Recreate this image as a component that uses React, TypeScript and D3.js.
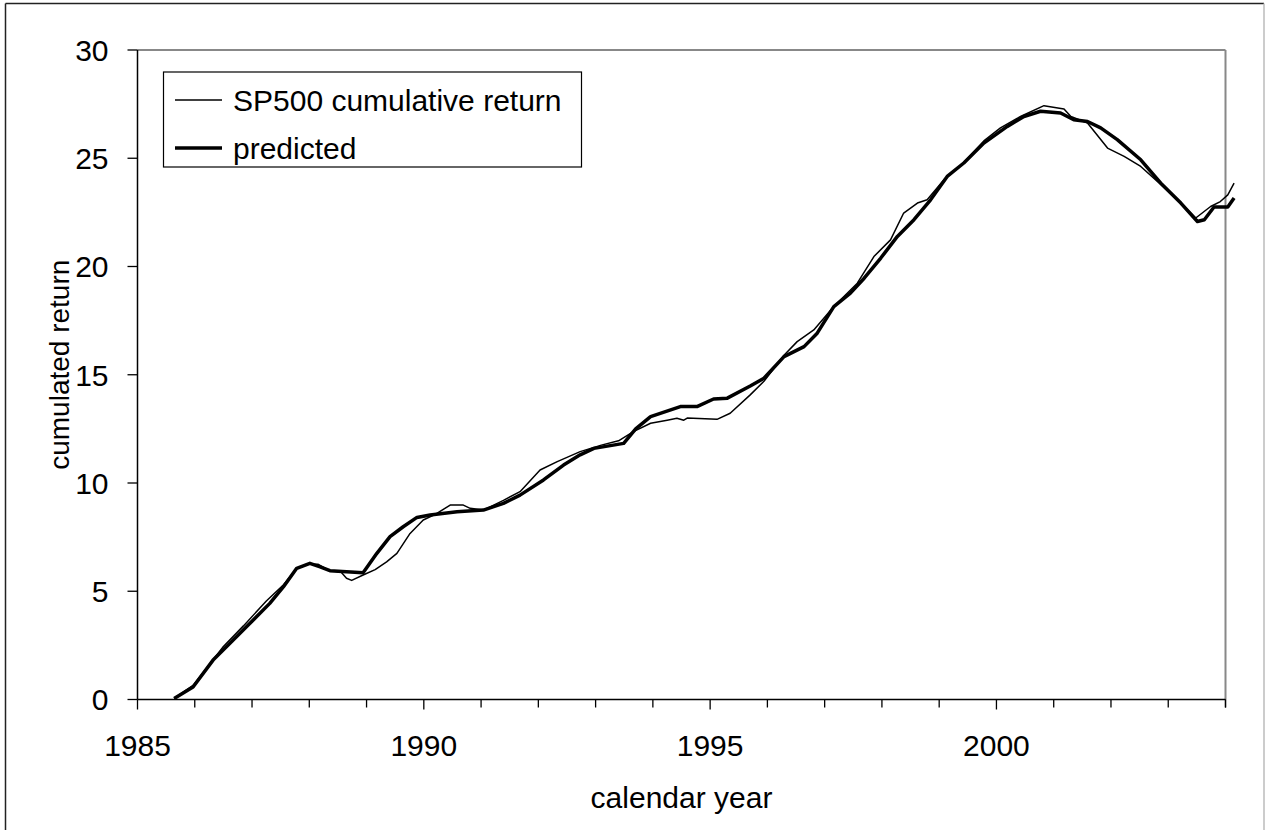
import React from "react";
import * as d3 from "d3";

// SP500 cumulative return (thin line)
const spYears = [1985.64,1985.97,1986.25,1986.5,1986.85,1987.25,1987.55,1987.78,1987.96,1988.15,1988.35,1988.55,1988.65,1988.74,1988.94,1989.15,1989.35,1989.53,1989.76,1989.99,1990.2,1990.46,1990.69,1990.81,1991.04,1991.39,1991.68,1992.03,1992.33,1992.73,1993.1,1993.4,1993.66,1993.96,1994.25,1994.42,1994.54,1994.6,1995.12,1995.35,1995.7,1995.94,1996.29,1996.52,1996.81,1997.16,1997.57,1997.86,1998.15,1998.38,1998.62,1998.79,1999.08,1999.43,1999.78,2000.07,2000.42,2000.83,2001.18,2001.3,2001.59,2001.94,2002.23,2002.52,2002.81,2003.1,2003.28,2003.48,2003.74,2003.91,2004.04,2004.15];
const spValues = [0.05,0.65,1.6,2.45,3.4,4.55,5.3,6.05,6.25,6.25,5.95,5.9,5.6,5.5,5.75,6.0,6.36,6.75,7.67,8.29,8.55,8.98,8.98,8.83,8.75,9.2,9.6,10.6,10.99,11.45,11.75,11.95,12.37,12.76,12.9,12.99,12.9,13.0,12.94,13.22,14.07,14.7,15.9,16.53,17.07,18.15,19.23,20.46,21.23,22.47,22.93,23.08,24.0,24.8,25.8,26.4,26.93,27.43,27.28,26.93,26.63,25.47,25.09,24.62,23.93,23.24,22.77,22.24,22.77,23.0,23.31,23.85];

// predicted (thick line)
const prYears = [1985.64,1985.97,1986.32,1986.61,1986.96,1987.31,1987.55,1987.78,1988.01,1988.19,1988.36,1988.65,1988.94,1989.18,1989.41,1989.64,1989.88,1990.11,1990.58,1991.04,1991.39,1991.68,1992.09,1992.44,1992.73,1992.97,1993.49,1993.7,1993.96,1994.48,1994.77,1995.06,1995.3,1995.7,1995.94,1996.29,1996.64,1996.87,1997.16,1997.45,1997.69,1997.98,1998.27,1998.56,1998.85,1999.14,1999.43,1999.78,2000.19,2000.48,2000.77,2001.12,2001.35,2001.59,2001.82,2002.11,2002.52,2002.87,2003.22,2003.51,2003.63,2003.8,2004.04,2004.15];
const prValues = [0.05,0.58,1.82,2.59,3.51,4.44,5.21,6.06,6.29,6.13,5.95,5.9,5.85,6.75,7.52,7.98,8.41,8.52,8.67,8.75,9.06,9.44,10.14,10.83,11.3,11.6,11.83,12.5,13.07,13.53,13.53,13.88,13.92,14.48,14.84,15.84,16.3,16.92,18.15,18.77,19.46,20.39,21.39,22.16,23.08,24.16,24.78,25.7,26.47,26.93,27.17,27.09,26.78,26.7,26.4,25.86,24.93,23.85,22.93,22.08,22.16,22.75,22.75,23.16];

const yTicks = [0, 5, 10, 15, 20, 25, 30];
const xMajorTicks = [1985, 1990, 1995, 2000];
const xMinorTicks = d3.range(1985, 2005);
const legendLabels = ["SP500 cumulative return", "predicted"];

const W = 1265, H = 830;
const left = 137.5, right = 1225.5, top = 50, bottom = 699.5;
const font = "'Liberation Sans', Arial, sans-serif";

export default function App() {
  const x = d3.scaleLinear().domain([1985, 2004]).range([left, right]);
  const y = d3.scaleLinear().domain([0, 30]).range([bottom, top]);
  const line = d3.line<[number, number]>().x(d => x(d[0])).y(d => y(d[1]));
  const sp = spYears.map((t, i) => [t, spValues[i]] as [number, number]);
  const pr = prYears.map((t, i) => [t, prValues[i]] as [number, number]);

  return (
    <svg width={W} height={H} style={{ position: "absolute", left: 0, top: 0, background: "#fff" }} fontFamily={font}>
      <rect x={0} y={0} width={W} height={H} fill="#fff" />
      {/* outer frame */}
      <line x1={5.5} y1={3.5} x2={1264} y2={3.5} stroke="#222" strokeWidth={1.5} />
      <line x1={5.5} y1={3.5} x2={5.5} y2={H} stroke="#222" strokeWidth={1.5} />
      <line x1={1264} y1={3.5} x2={1264} y2={H} stroke="#bbb" strokeWidth={1.5} />
      {/* plot frame (gray top/right) */}
      <line x1={left} y1={top} x2={right} y2={top} stroke="#888" strokeWidth={2} />
      <line x1={right} y1={top} x2={right} y2={bottom} stroke="#888" strokeWidth={2} />
      {/* y axis */}
      <line x1={left} y1={top} x2={left} y2={bottom} stroke="#000" strokeWidth={1.5} />
      {yTicks.map(v => (
        <g key={"y" + v}>
          <line x1={left - 10} x2={left} y1={y(v)} y2={y(v)} stroke="#000" strokeWidth={1.3} />
          <text x={108.5} y={y(v)} dy="0.36em" textAnchor="end" fontSize={30} fill="#000">{v}</text>
        </g>
      ))}
      {/* x axis */}
      <line x1={left} y1={bottom} x2={right} y2={bottom} stroke="#000" strokeWidth={1.5} />
      {xMinorTicks.map(t => (
        <line key={"m" + t} x1={x(t)} x2={x(t)} y1={bottom} y2={bottom + (xMajorTicks.includes(t) ? 10 : 8)} stroke="#000" strokeWidth={1.3} />
      ))}
      <line x1={x(2004)} x2={x(2004)} y1={bottom} y2={bottom + 8} stroke="#000" strokeWidth={1.3} />
      {xMajorTicks.map(t => (
        <text key={"xl" + t} x={x(t)} y={756} textAnchor="middle" fontSize={30} fill="#000">{t}</text>
      ))}
      <text x={(left + right) / 2} y={808} textAnchor="middle" fontSize={30} fill="#000">calendar year</text>
      <text transform={`translate(68.5, ${(top + bottom) / 2 - 10}) rotate(-90)`} textAnchor="middle" fontSize={28} fill="#000">cumulated return</text>
      {/* series */}
      <path d={line(sp) || ""} fill="none" stroke="#000" strokeWidth={1.5} strokeLinejoin="round" />
      <path d={line(pr) || ""} fill="none" stroke="#000" strokeWidth={3.5} strokeLinejoin="round" />
      {/* legend */}
      <rect x={163.5} y={72} width={418} height={95} fill="#fff" stroke="#000" strokeWidth={1.2} />
      <line x1={175} x2={222} y1={100} y2={100} stroke="#000" strokeWidth={1.5} />
      <line x1={175} x2={222} y1={148} y2={148} stroke="#000" strokeWidth={3.5} />
      <text x={233} y={100} dy="0.36em" fontSize={30} fill="#000">{legendLabels[0]}</text>
      <text x={233} y={148} dy="0.36em" fontSize={30} fill="#000">{legendLabels[1]}</text>
    </svg>
  );
}
